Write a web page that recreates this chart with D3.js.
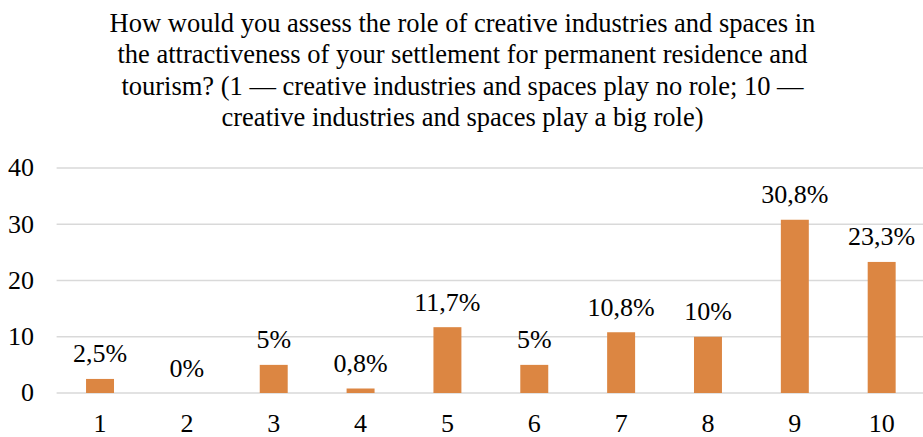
<!DOCTYPE html>
<html>
<head>
<meta charset="utf-8">
<script src="https://cdn.jsdelivr.net/npm/d3@7"></script>
<style>
  html, body { margin: 0; padding: 0; background: #fff; }
  svg { display: block; }
</style>
</head>
<body>
<svg id="chart" width="923" height="437"></svg>
<script>
// Survey answers on a 1–10 scale and the share of respondents (%)
const categories = ["1", "2", "3", "4", "5", "6", "7", "8", "9", "10"];
const shares = [2.5, 0, 5, 0.8, 11.7, 5, 10.8, 10, 30.8, 23.3];
const shareLabels = ["2,5%", "0%", "5%", "0,8%", "11,7%", "5%", "10,8%", "10%", "30,8%", "23,3%"];
const yTicks = [0, 10, 20, 30, 40];
const titleLines = [
  "How would you assess the role of creative industries and spaces in",
  "the attractiveness of your settlement for permanent residence and",
  "tourism? (1 \u2014 creative industries and spaces play no role; 10 \u2014",
  "creative industries and spaces play a big role)"
];

const FONT = "'Liberation Serif', Tinos, 'Times New Roman', serif";
const W = 923, H = 437;
const plot = { left: 56.6, right: 925.1, top: 168, bottom: 393 };

const svg = d3.select("#chart");

const x = d3.scaleBand()
  .domain(categories)
  .range([plot.left, plot.right])
  .paddingInner(0.678)
  .paddingOuter(0.339);

const y = d3.scaleLinear()
  .domain([0, 40])
  .range([plot.bottom, plot.top]);

// Title
svg.append("g")
  .selectAll("text")
  .data(titleLines)
  .join("text")
  .attr("x", W / 2 + 1)
  .attr("y", (d, i) => 31.7 + i * 31.5)
  .attr("text-anchor", "middle")
  .style("font-family", FONT)
  .style("font-size", "26.5px")
  .attr("fill", "#000")
  .text(d => d);

// Horizontal gridlines
svg.append("g")
  .selectAll("line")
  .data(yTicks)
  .join("line")
  .attr("x1", plot.left)
  .attr("x2", W)
  .attr("y1", d => y(d))
  .attr("y2", d => y(d))
  .attr("stroke", "#d9d9d9")
  .attr("stroke-width", 1.6);

// Y axis labels
const yAxis = d3.axisLeft(y).tickValues(yTicks).tickSize(0).tickPadding(0);
const gy = svg.append("g")
  .attr("transform", "translate(34,0)")
  .call(yAxis);
gy.select(".domain").remove();
gy.selectAll("text")
  .attr("dy", "0.3em")
  .style("font-family", FONT)
  .style("font-size", "26px")
  .attr("fill", "#000");

// Bars
svg.append("g")
  .selectAll("rect")
  .data(shares)
  .join("rect")
  .attr("x", (d, i) => x(categories[i]))
  .attr("width", x.bandwidth())
  .attr("y", d => y(d))
  .attr("height", d => y(0) - y(d))
  .attr("fill", "#dc8642");

// Value labels
svg.append("g")
  .selectAll("text")
  .data(shares)
  .join("text")
  .attr("x", (d, i) => x(categories[i]) + x.bandwidth() / 2)
  .attr("y", d => y(d) - 16.5)
  .attr("text-anchor", "middle")
  .style("font-family", FONT)
  .style("font-size", "26px")
  .attr("fill", "#000")
  .text((d, i) => shareLabels[i]);

// X axis labels
const xAxis = d3.axisBottom(x).tickSize(0).tickPadding(0);
const gx = svg.append("g")
  .attr("transform", `translate(0,${plot.bottom})`)
  .call(xAxis);
gx.select(".domain").remove();
gx.selectAll("text")
  .attr("y", 38.5)
  .attr("dy", 0)
  .style("font-family", FONT)
  .style("font-size", "26px")
  .attr("fill", "#000");
</script>
</body>
</html>
